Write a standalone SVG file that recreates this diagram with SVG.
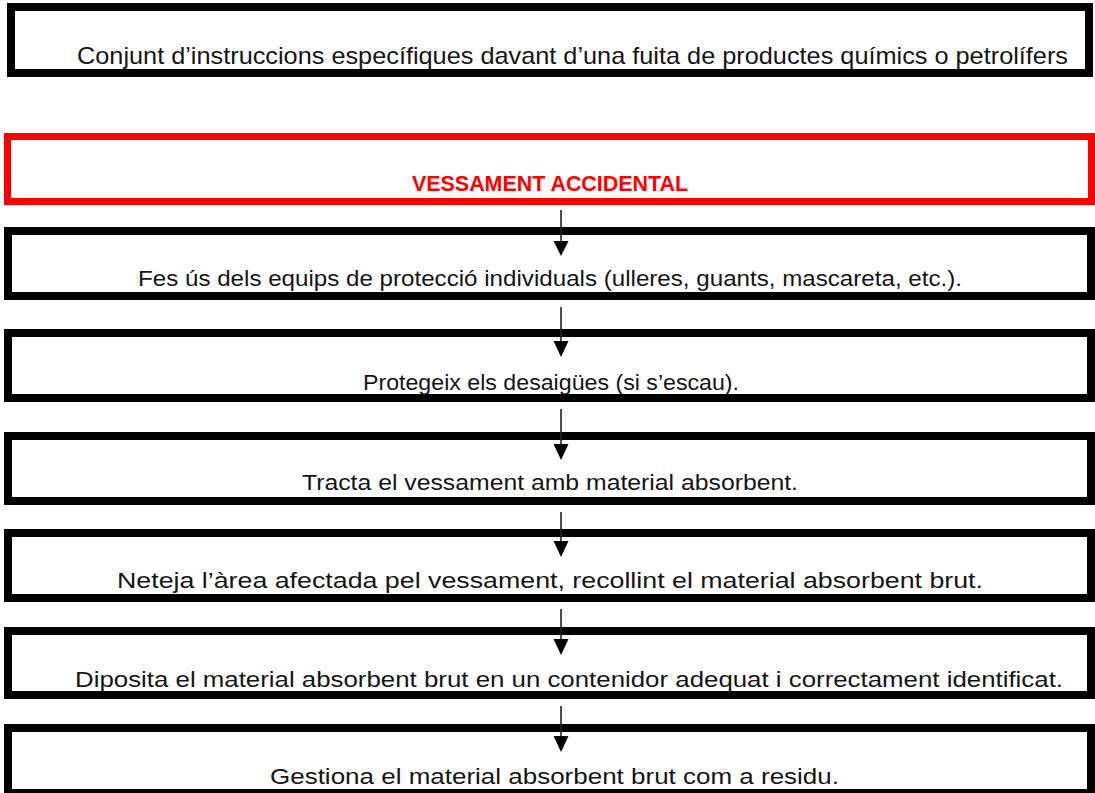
<svg xmlns="http://www.w3.org/2000/svg" width="1095" height="793" viewBox="0 0 1095 793">
  <style>
    .box { fill: #ffffff; stroke: #000000; stroke-width: 8; }
    .red { fill: #ffffff; stroke: #ff0000; stroke-width: 7; }
    .t { font-family: "Liberation Sans", Arial, sans-serif; font-size: 22px; fill: #151515; }
    .tt { font-family: "Liberation Sans", Arial, sans-serif; font-size: 24px; fill: #151515; }
    .rt { font-family: "Liberation Sans", Arial, sans-serif; font-size: 22px; font-weight: bold; fill: #ff0000; }
    .ln { stroke: #222222; stroke-width: 1.6; fill: none; }
    .hd { fill: #000000; }
  </style>
  <rect x="0" y="0" width="1095" height="793" fill="#ffffff"/>

  <g id="title">
    <rect class="box" x="11" y="7" width="1078" height="66"/>
    <text class="tt" x="77" y="64" textLength="991" lengthAdjust="spacingAndGlyphs">Conjunt d’instruccions específiques davant d’una fuita de productes químics o petrolífers</text>
  </g>

  <g id="vessament">
    <rect class="red" x="7.5" y="136.5" width="1084" height="65"/>
    <text class="rt" x="412" y="191" textLength="276" lengthAdjust="spacingAndGlyphs">VESSAMENT ACCIDENTAL</text>
  </g>

  <g id="step1">
    <rect class="box" x="8" y="231" width="1083" height="65"/>
    <text class="t" x="138" y="286" textLength="824" lengthAdjust="spacingAndGlyphs">Fes ús dels equips de protecció individuals (ulleres, guants, mascareta, etc.).</text>
  </g>

  <g id="step2">
    <rect class="box" x="8" y="333" width="1083" height="65"/>
    <text class="t" x="363" y="390" textLength="376" lengthAdjust="spacingAndGlyphs">Protegeix els desaigües (si s’escau).</text>
  </g>

  <g id="step3">
    <rect class="box" x="8" y="436" width="1083" height="65"/>
    <text class="t" x="302" y="490" textLength="496" lengthAdjust="spacingAndGlyphs">Tracta el vessament amb material absorbent.</text>
  </g>

  <g id="step4">
    <rect class="box" x="8" y="533" width="1083" height="65"/>
    <text class="t" x="117" y="588" textLength="866" lengthAdjust="spacingAndGlyphs">Neteja l’àrea afectada pel vessament, recollint el material absorbent brut.</text>
  </g>

  <g id="step5">
    <rect class="box" x="8" y="631" width="1083" height="64"/>
    <text class="t" x="75" y="687" textLength="988" lengthAdjust="spacingAndGlyphs">Diposita el material absorbent brut en un contenidor adequat i correctament identificat.</text>
  </g>

  <g id="step6">
    <rect class="box" x="8" y="728" width="1083" height="65"/>
    <text class="t" x="270" y="784" textLength="569" lengthAdjust="spacingAndGlyphs">Gestiona el material absorbent brut com a residu.</text>
  </g>

  <g id="connectors">
    <line class="ln" x1="561" y1="210" x2="561" y2="244"/>
    <polygon class="hd" points="553.5,241 568.5,241 561,256"/>
    <line class="ln" x1="561" y1="307" x2="561" y2="344"/>
    <polygon class="hd" points="553.5,341 568.5,341 561,357"/>
    <line class="ln" x1="561" y1="409" x2="561" y2="447"/>
    <polygon class="hd" points="553.5,444 568.5,444 561,460"/>
    <line class="ln" x1="561" y1="512" x2="561" y2="544"/>
    <polygon class="hd" points="553.5,541 568.5,541 561,557"/>
    <line class="ln" x1="561" y1="609" x2="561" y2="642"/>
    <polygon class="hd" points="553.5,639 568.5,639 561,655"/>
    <line class="ln" x1="561" y1="706" x2="561" y2="739"/>
    <polygon class="hd" points="553.5,736 568.5,736 561,752"/>
  </g>
</svg>
